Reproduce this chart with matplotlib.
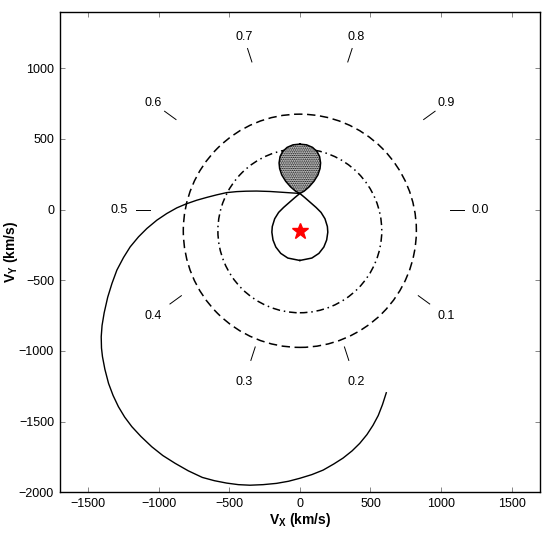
import numpy as np
import matplotlib.pyplot as plt
from matplotlib.patches import Circle

plt.rcParams['font.family'] = ['Liberation Sans', 'DejaVu Sans']
plt.rcParams['mathtext.fontset'] = 'custom'
plt.rcParams['mathtext.rm'] = 'Liberation Sans'
plt.rcParams['mathtext.bf'] = 'Liberation Sans:bold'
plt.rcParams['hatch.linewidth'] = 0.7

# gas stream trajectory (km/s)
stream_vx = [0, -60, -120, -212, -306, -380, -447, -518, -589, -659, -730, -805,
             -871, -942, -1012, -1083, -1142, -1201, -1248, -1295, -1330, -1360,
             -1385, -1400, -1406, -1404, -1397, -1380, -1354, -1322, -1284, -1240,
             -1189, -1125, -1048, -970, -883, -790, -690, -605, -518, -435, -353,
             -260, -165, -80, 0, 85, 165, 240, 306, 370, 424, 475, 518, 555, 585, 612]
stream_vy = [114, 118, 122, 128, 131, 130, 127, 120, 104, 86, 66, 40,
             12, -28, -75, -134, -193, -264, -339, -428, -523, -620,
             -730, -820, -900, -980, -1041, -1130, -1230, -1315, -1395, -1468,
             -1536, -1605, -1678, -1740, -1795, -1848, -1895, -1918, -1935, -1946, -1950,
             -1946, -1937, -1922, -1901, -1875, -1843, -1800, -1758, -1707, -1654, -1592,
             -1526, -1457, -1380, -1296]

# right halves of the Roche lobes (symmetric about Vx = 0)
donor_vx = [0, 30, 65, 100, 128, 143, 147, 140, 122, 90, 48, 0]
donor_vy = [114, 130, 160, 200, 245, 290, 330, 375, 410, 440, 458, 463]
primary_vx = [0, 35, 75, 115, 150, 178, 195, 198, 190, 170, 135, 85, 0]
primary_vy = [114, 85, 50, 15, -20, -65, -120, -160, -215, -265, -310, -343, -360]

# white dwarf velocity and Keplerian circles around it
wd_vx, wd_vy = 0, -150
disc_radii = [825, 580]
disc_styles = [(0, (5.5, 3)), (0, (5, 2.5, 1, 2.5))]

phases = [0.0, 0.1, 0.2, 0.3, 0.4, 0.5, 0.6, 0.7, 0.8, 0.9]
phase_labels = ['0.0', '0.1', '0.2', '0.3', '0.4', '0.5', '0.6', '0.7', '0.8', '0.9']

fig = plt.figure(figsize=(5.45, 5.33), dpi=100)
ax = fig.add_axes([0.1095, 0.0764, 0.8813, 0.9017])

for r, ls in zip(disc_radii, disc_styles):
    ax.add_patch(Circle((wd_vx, wd_vy), r, fill=False, ec='black', lw=1.1, ls=ls, zorder=2))

ax.plot(stream_vx, stream_vy, color='black', lw=1.0, zorder=3)

dx = [-v for v in donor_vx[::-1]] + donor_vx[1:]
dy = donor_vy[::-1] + donor_vy[1:]
ax.fill(dx, dy, facecolor='0.8', edgecolor='black', hatch='.........', lw=0, zorder=4)
ax.plot(dx, dy, color='black', lw=1.1, zorder=5)

px = [-v for v in primary_vx[::-1]] + primary_vx[1:]
py = primary_vy[::-1] + primary_vy[1:]
ax.plot(px, py, color='black', lw=1.1, zorder=5)

ax.plot(wd_vx, wd_vy, marker='*', color='red', ms=12, mec='red', zorder=6)

# orbital phase markers
for ph, lab in zip(phases, phase_labels):
    th = -2 * np.pi * ph
    r_in = 1060 + 40 * np.sin(th)
    r_out = 1160 + 40 * np.sin(th)
    ax.plot([r_in * np.cos(th), r_out * np.cos(th)], [r_in * np.sin(th), r_out * np.sin(th)],
            color='black', lw=0.7)
    ax.text(1280 * np.cos(th), 1280 * np.sin(th), lab, ha='center', va='center', fontsize=9)

ax.set_xlim(-1700, 1700)
ax.set_ylim(-2000, 1400)
ax.set_xticks(np.arange(-1500, 1501, 500))
ax.set_yticks(np.arange(-2000, 1001, 500))
ax.tick_params(direction='in', top=True, right=True, length=3.5, width=0.6,
               color='0.45', labelsize=9, pad=4)
for s in ax.spines.values():
    s.set_linewidth(1.0)

ax.set_xlabel(r'V$_\mathbf{X}$ (km/s)', fontsize=10, fontweight='bold', labelpad=1)
ax.set_ylabel(r'V$_\mathbf{Y}$ (km/s)', fontsize=10, fontweight='bold')
ax.yaxis.set_label_coords(-0.083, 0.5)

fig.savefig('out.png', dpi=100)
